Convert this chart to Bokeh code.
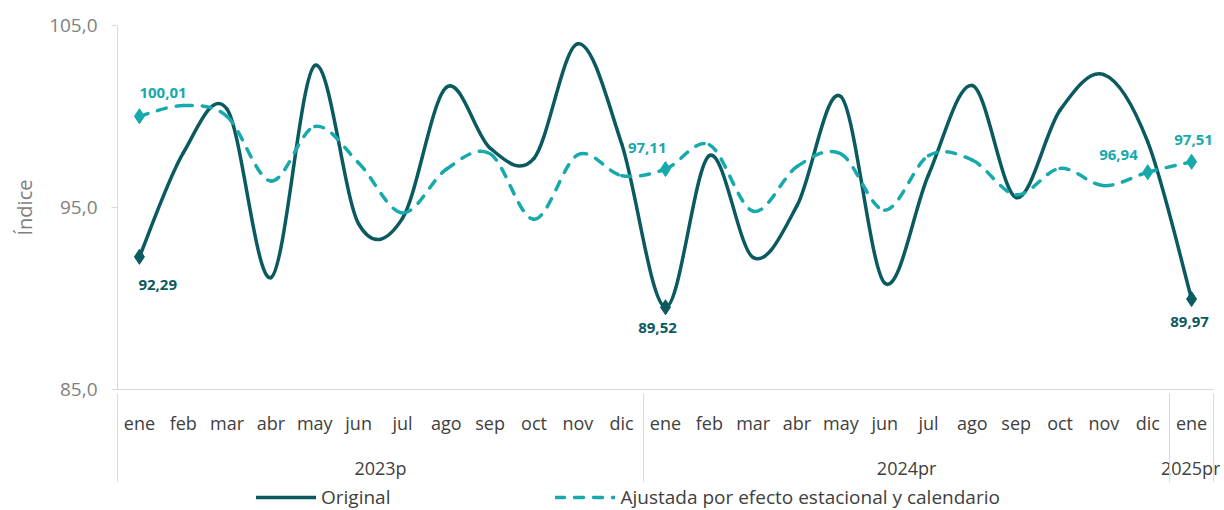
from bokeh.plotting import figure
from bokeh.models import (Range1d, FixedTicker, LinearAxis, Legend, LegendItem,
                          ColumnDataSource)
from bokeh.layouts import column
from bokeh.embed import file_html
from bokeh.resources import INLINE
from bokeh.core.properties import value

# ---------------- data ----------------
months = ["ene", "feb", "mar", "abr", "may", "jun", "jul", "ago", "sep", "oct", "nov", "dic"] * 2 + ["ene"]
years = ["2023p"] * 12 + ["2024pr"] * 12 + ["2025pr"]
original = [92.29, 98.0, 100.4, 91.15, 102.8, 94.1, 94.4, 101.6, 98.26, 97.7, 104.0, 98.5,
            89.52, 97.85, 92.25, 95.1, 101.1, 90.85, 96.8, 101.7, 95.55, 100.35, 102.3, 98.6,
            89.97]
ajustada = [100.01, 100.6, 100.0, 96.45, 99.45, 97.45, 94.7, 97.1, 97.95, 94.35, 97.9, 96.75,
            97.11, 98.45, 94.8, 97.25, 97.95, 94.85, 97.85, 97.6, 95.7, 97.15, 96.2, 96.94,
            97.51]
y_ticks = [85, 95, 105]
y_tick_labels = ["85,0", "95,0", "105,0"]
orig_marked = [0, 12, 24]
adj_marked = [0, 12, 23, 24]
series_names = ["Original", "Ajustada por efecto estacional y calendario"]
y_title = "Índice"

# ---------------- styles ----------------
C_ORIG = "#0a5a60"
C_ADJ = "#17a9ac"
C_AXIS = "#d9d9d9"
FONT = "Open Sans"
W = 1220
orig_style = dict(line_color=C_ORIG, line_width=3.5, line_cap="round")
adj_style = dict(line_color=C_ADJ, line_width=3.5, line_dash="9 10", line_cap="round")
# label placement (align, x_offset, y_offset) per marked point
orig_lbl_style = [("left", -1, 28), ("center", -8, 21), ("center", -2, 23)]
adj_lbl_style = [("left", 0, -23), ("right", 1, -21), ("right", -10, -17), ("center", 2, -22)]

n = len(months)
xs = list(range(n))


def bezier_source(xv, yv, t=1.0 / 6.0):
    d = dict(x0=[], y0=[], x1=[], y1=[], cx0=[], cy0=[], cx1=[], cy1=[])
    m = len(xv)
    for i in range(m - 1):
        ip = max(i - 1, 0)
        inx = min(i + 2, m - 1)
        d["x0"].append(xv[i]); d["y0"].append(yv[i])
        d["x1"].append(xv[i + 1]); d["y1"].append(yv[i + 1])
        d["cx0"].append(xv[i] + (xv[i + 1] - xv[ip]) * t)
        d["cy0"].append(yv[i] + (yv[i + 1] - yv[ip]) * t)
        d["cx1"].append(xv[i + 1] - (xv[inx] - xv[i]) * t)
        d["cy1"].append(yv[i + 1] - (yv[inx] - yv[i]) * t)
    return ColumnDataSource(d)


def fmt(v):
    return f"{v:.2f}".replace(".", ",")


p = figure(width=W, height=482, output_backend="svg", toolbar_location=None,
           x_range=Range1d(-0.5, n - 0.5), y_range=Range1d(y_ticks[0], y_ticks[-1]),
           min_border_left=117, min_border_right=7, min_border_top=25, min_border_bottom=91)
p.outline_line_color = None
p.grid.visible = False
p.background_fill_color = "white"

# ---- lines ----
bz = dict(x0="x0", y0="y0", x1="x1", y1="y1", cx0="cx0", cy0="cy0", cx1="cx1", cy1="cy1")
p.bezier(source=bezier_source(xs, original), **bz, **orig_style)
p.bezier(source=bezier_source(xs, ajustada), **bz, **adj_style)

# ---- markers ----
p.scatter([xs[i] for i in orig_marked], [original[i] for i in orig_marked], marker="diamond",
          size=15, color=C_ORIG)
p.scatter([xs[i] for i in adj_marked], [ajustada[i] for i in adj_marked], marker="diamond",
          size=15, color=C_ADJ)

# ---- data labels ----
for idx, vals, styles, col in [(orig_marked, original, orig_lbl_style, C_ORIG),
                               (adj_marked, ajustada, adj_lbl_style, C_ADJ)]:
    src = ColumnDataSource(dict(
        x=[xs[i] for i in idx], y=[vals[i] for i in idx], t=[fmt(vals[i]) for i in idx],
        al=[s[0] for s in styles], xo=[s[1] for s in styles], yo=[s[2] for s in styles]))
    p.text(x="x", y="y", text="t", source=src, text_align="al", x_offset="xo", y_offset="yo",
           text_baseline="middle", text_font=value(FONT), text_font_style="bold",
           text_font_size="15px", text_color=col)

# ---- y axis ----
ya = p.yaxis[0]
ya.ticker = FixedTicker(ticks=y_ticks, minor_ticks=[])
ya.major_label_overrides = {t: l for t, l in zip(y_ticks, y_tick_labels)}
ya.axis_line_color = C_AXIS
ya.major_tick_line_color = C_AXIS
ya.major_tick_out = 6
ya.major_tick_in = 0
ya.major_label_standoff = 14
ya.major_label_text_font = FONT
ya.major_label_text_font_size = "19px"
ya.major_label_text_color = "#7f7f7f"
ya.axis_label = y_title
ya.axis_label_standoff = 8
ya.axis_label_text_font = FONT
ya.axis_label_text_font_size = "20px"
ya.axis_label_text_font_style = "normal"
ya.axis_label_text_color = "#7f7f7f"

# ---- x axes: months + year groups + separators ----
bounds = [-0.5]
for i in range(1, n):
    if years[i] != years[i - 1]:
        bounds.append(i - 0.5)
bounds.append(n - 0.5)

xa = p.xaxis[0]
xa.ticker = FixedTicker(ticks=xs, minor_ticks=[])
xa.major_label_overrides = {x: m for x, m in zip(xs, months)}
xa.axis_line_color = C_AXIS
xa.major_tick_line_color = None
xa.minor_tick_line_color = None
xa.major_tick_out = 0
xa.major_tick_in = 0
xa.minor_tick_out = 0
xa.minor_tick_in = 0
xa.major_label_standoff = 21
xa.major_label_text_font = FONT
xa.major_label_text_font_size = "18px"
xa.major_label_text_color = "#404040"

groups = []
for yname in dict.fromkeys(years):
    pos = [x for x, yy in zip(xs, years) if yy == yname]
    groups.append(((pos[0] + pos[-1]) / 2, yname))
year_axis = LinearAxis(ticker=FixedTicker(ticks=[g[0] for g in groups], minor_ticks=[]),
                       major_label_overrides={g[0]: g[1] for g in groups},
                       axis_line_color=None, major_tick_line_color=None,
                       minor_tick_line_color=None,
                       major_tick_out=0, major_tick_in=0, minor_tick_out=0, minor_tick_in=0,
                       major_label_standoff=18,
                       major_label_text_font=FONT, major_label_text_font_size="18px",
                       major_label_text_color="#404040")
p.add_layout(year_axis, "below")

sep_axis = LinearAxis(ticker=FixedTicker(ticks=[], minor_ticks=bounds),
                      axis_line_color=None, major_tick_line_color=None,
                      minor_tick_line_color=C_AXIS, minor_tick_line_width=1,
                      major_tick_out=0, major_tick_in=0, minor_tick_out=0, minor_tick_in=89,
                      major_label_standoff=0, major_label_text_font_size="1px")
p.add_layout(sep_axis, "below")

# ---- legend (separate strip below the chart; its frame aligns with the chart's) ----
lp = figure(width=W, height=28, output_backend="svg", toolbar_location=None,
            x_axis_location=None, y_axis_location=None, min_border=0,
            x_range=Range1d(-0.5, n - 0.5), y_range=Range1d(0, 1))
lp.outline_line_color = None
lp.grid.visible = False
# series lines reused only as legend keys (their values lie outside this strip's y range)
l_orig = lp.line(x=xs, y=original, **orig_style)
l_adj = lp.line(x=xs, y=ajustada, **adj_style)
lg = Legend(items=[LegendItem(label=series_names[0], renderers=[l_orig]),
                   LegendItem(label=series_names[1], renderers=[l_adj])],
            location=(139, 0), orientation="horizontal", border_line_color=None,
            background_fill_alpha=0, padding=2, margin=0, spacing=165, glyph_width=60,
            label_standoff=5, label_text_font=FONT, label_text_font_size="19px",
            label_text_color="#404040")
lp.add_layout(lg, "center")

root = column(p, lp, spacing=0)
open("out.html", "w").write(file_html(root, INLINE))
